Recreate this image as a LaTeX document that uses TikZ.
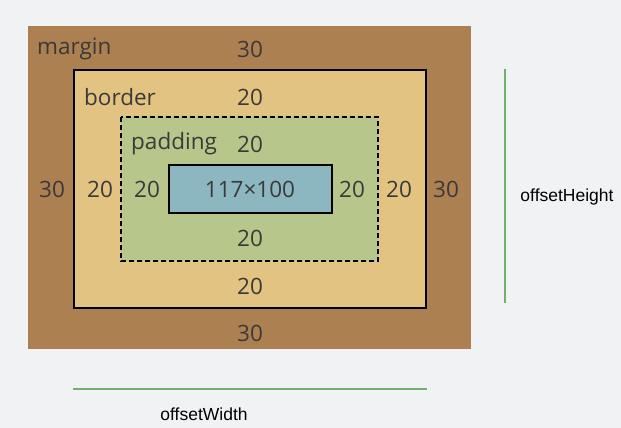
\documentclass[tikz,border=0pt]{standalone}
\usepackage{fontspec}
\setmainfont{Open Sans}
\newfontfamily\dimfont{Liberation Sans}
\usetikzlibrary{positioning}
\definecolor{bgcol}{HTML}{F1F2F4}
\definecolor{margincol}{HTML}{AD8052}
\definecolor{bordercol}{HTML}{E3C381}
\definecolor{paddingcol}{HTML}{B7C68B}
\definecolor{contentcol}{HTML}{8CB6C0}
\definecolor{txtcol}{HTML}{3A3A3A}
\definecolor{dimcol}{HTML}{72AE6E}

\begin{document}
\begin{tikzpicture}[
        x=1pt, y=-1pt,
        lbl/.style={text=txtcol, font=\fontsize{22.5}{24}\selectfont, inner sep=0pt},
        dimlbl/.style={text=black, font=\dimfont\fontsize{17.5}{19}\selectfont, inner sep=0pt},
        dimline/.style={draw=dimcol, line width=1.3pt}
    ]
    % 背景与盒子
    \fill[bgcol] (0,0) rectangle (621,428);
    \useasboundingbox (0,0) rectangle (621,428);
    \fill[margincol] (28,26) rectangle (471,349);
    \draw[fill=bordercol, line width=1.8pt] (74,70) rectangle (426,308);
    \draw[fill=paddingcol, line width=1.5pt, dash pattern=on 5pt off 3pt] (121,117) rectangle (378,261);
    \draw[fill=contentcol, line width=1.8pt] (169,165) rectangle (332,213);

    % 标签
    \node[lbl, anchor=west] (margin) at (37,49) {margin};
    \node[lbl, anchor=west] (border) at (84,97) {border};
    \node[lbl, anchor=west] (padding) at (131,144) {padding};
    \node[lbl] (content) at (250,189) {117×100};

    \node[lbl] (mtop) at (250,49) {30};
    \node[lbl] (btop) at (250,97) {20};
    \node[lbl] (ptop) at (250,144) {20};
    \node[lbl] (pbot) at (250,238) {20};
    \node[lbl] (bbot) at (250,286) {20};
    \node[lbl] (mbot) at (250,333) {30};

    \node[lbl] (mleft) at (52,189) {30};
    \node[lbl] (bleft) at (100,189) {20};
    \node[lbl] (pleft) at (147,189) {20};
    \node[lbl] (pright) at (352,189) {20};
    \node[lbl] (bright) at (399,189) {20};
    \node[lbl] (mright) at (446,189) {30};

    % 尺寸线
    \coordinate (wl) at (73,389);
    \coordinate (wr) at (427,389);
    \coordinate (ht) at (505,69);
    \coordinate (hb) at (505,303);
    \draw[dimline] (wl) -- (wr);
    \draw[dimline] (ht) -- (hb);
    \node[dimlbl] (width) at (204,414) {offsetWidth};
    \node[dimlbl] (height) at (567,197) {offsetHeight};
\end{tikzpicture}
\end{document}
